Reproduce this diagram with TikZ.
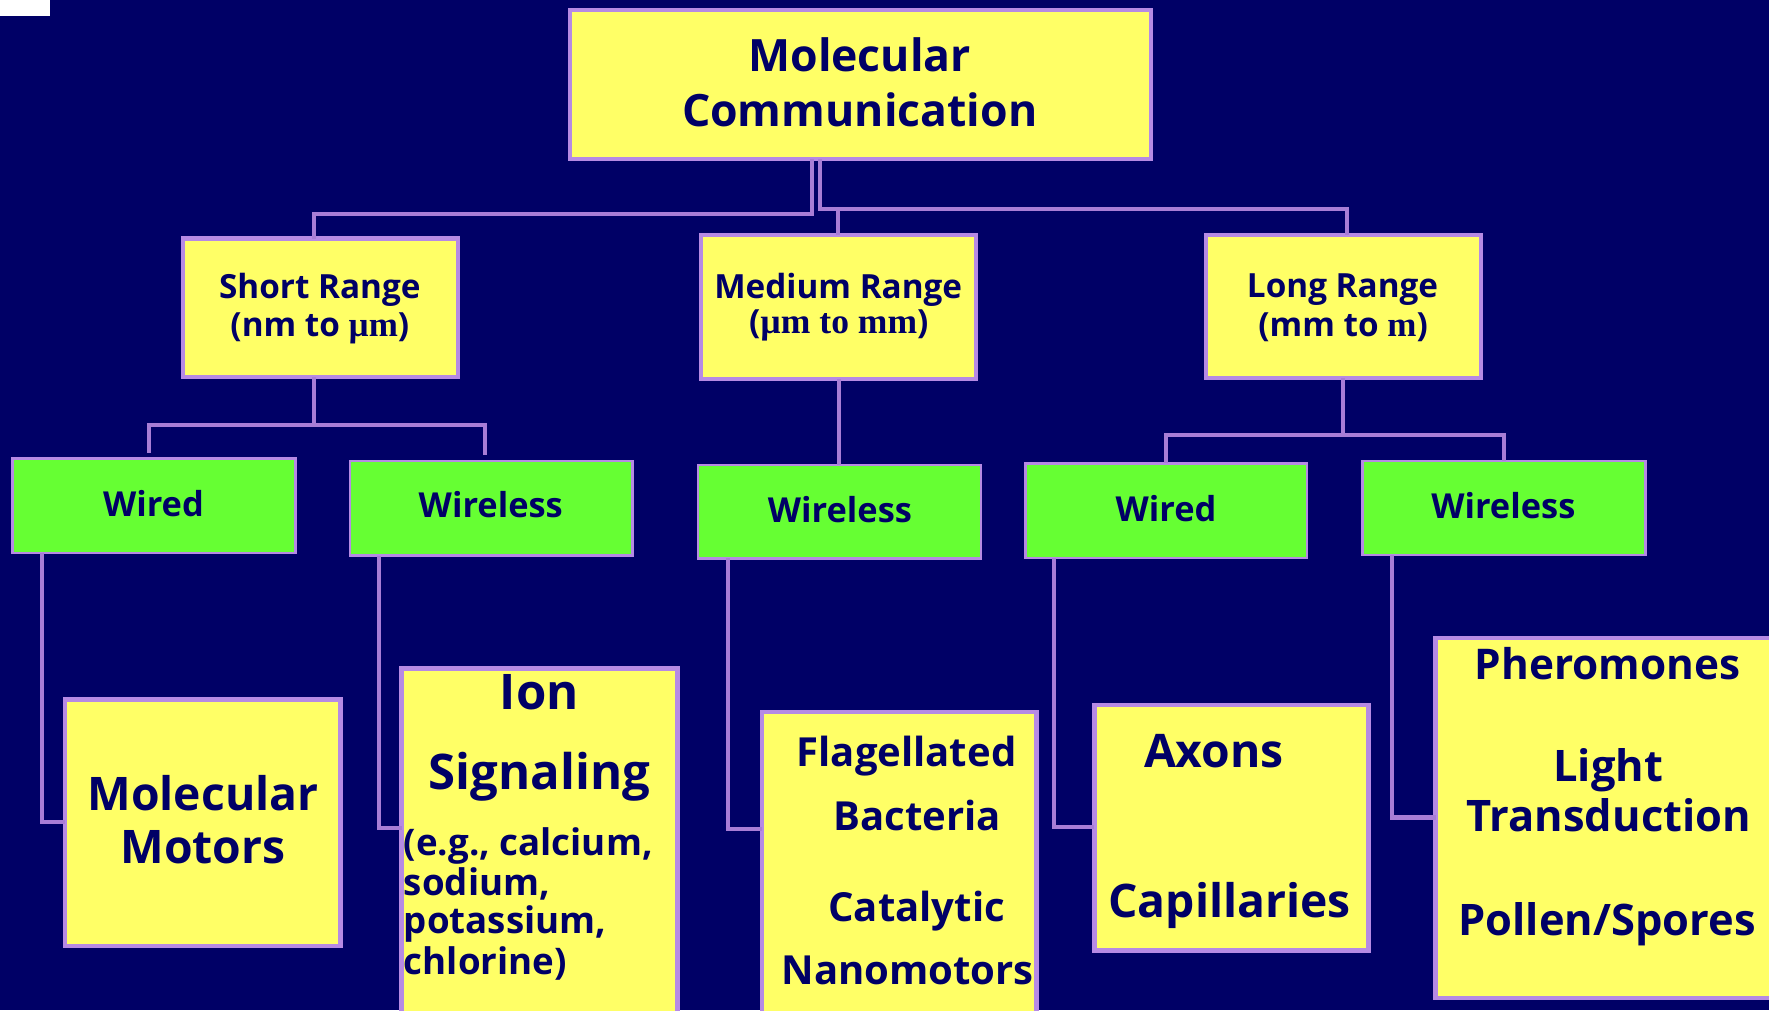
\documentclass[tikz,border=0pt]{standalone}
\usepackage{fontspec}
\newfontfamily\cf{Open Sans}
\newfontfamily\tnr{Liberation Serif}
\newcommand\fsz[1]{\fontsize{#1}{#1}\selectfont}
\definecolor{bgc}{HTML}{000066}
\definecolor{navy}{HTML}{000066}
\definecolor{yel}{HTML}{FFFF66}
\definecolor{grn}{HTML}{66FF33}
\definecolor{bordc}{HTML}{B68AE4}
\definecolor{connc}{HTML}{A87DD6}
\tikzset{
  box/.style={draw=bordc, anchor=north west, inner sep=0pt, outer sep=0pt},
  ybox/.style={box, fill=yel, line width=3.8pt},
  gbox/.style={box, fill=grn, line width=2.2pt},
  conn/.style={draw=connc, line width=3.6pt},
  txt/.style={text=navy, anchor=base, inner sep=0pt, outer sep=0pt},
  tnode/.style={txt, font={\cf\bfseries\fsz{#1}}},
  tleft/.style={txt, anchor=base west, font={\cf\bfseries\fsz{#1}}},
}
\begin{document}
\begin{tikzpicture}[x=1pt,y=-1pt]
\useasboundingbox (0,0) rectangle (1568,895.25);
\fill[bgc] (0,0) rectangle (1568,895.25);
\clip (0,0) rectangle (1568,895.25);
\fill[white] (0,0) rectangle (44.3,13.9);

% ---------- boxes ----------
\node[ybox, minimum width=515pt, minimum height=132pt] (top) at (505,9) {};
\node[ybox, minimum width=243.8pt, minimum height=122.5pt] (short) at (162,211.5) {};
\node[ybox, minimum width=243.5pt, minimum height=127.5pt] (medium) at (621.5,208.5) {};
\node[ybox, minimum width=243.5pt, minimum height=126.5pt] (long) at (1069,208.5) {};

\node[gbox, minimum width=250.8pt, minimum height=83.7pt] (wd1) at (11.2,406.3) {};
\node[gbox, minimum width=250.4pt, minimum height=83.9pt] (wl1) at (310.3,408.6) {};
\node[gbox, minimum width=250.8pt, minimum height=83pt] (wl2) at (618.7,412) {};
\node[gbox, minimum width=249.4pt, minimum height=83.8pt] (wd2) at (909,410.8) {};
\node[gbox, minimum width=250.7pt, minimum height=83.4pt] (wl3) at (1207.6,408.6) {};

\node[ybox, minimum width=244.2pt, minimum height=218.5pt] (mm) at (57.5,620) {};
\node[ybox, minimum width=244.4pt, minimum height=330pt] (ion) at (356,592.5) {};
\node[ybox, minimum width=243pt, minimum height=290pt] (fla) at (675.6,631.4) {};
\node[ybox, minimum width=243pt, minimum height=218pt] (axc) at (970,624.6) {};
\node[ybox, minimum width=330pt, minimum height=319.1pt] (pher) at (1272.5,565.5) {};

% ---------- connectors ----------
\coordinate (a1) at (720,190);
\coordinate (sr1) at (278,0);
\draw[conn] (top.south -| a1) -- (a1) -- (a1 -| sr1) -- (short.north -| sr1);
\coordinate (a2) at (727,185.5);
\coordinate (lr1) at (1194,0);
\draw[conn] (top.south -| a2) -- (a2) -- (a2 -| lr1) -- (long.north -| lr1);
\coordinate (mr1) at (743,185.5);
\draw[conn] (mr1) -- (medium.north -| mr1);

\coordinate (b1) at (278,377);
\coordinate (b2) at (132,401.5);
\coordinate (b3) at (430,403.5);
\draw[conn] (short.south -| b1) -- (b1) -| (b2);
\draw[conn] (b1) -| (b3);

\coordinate (mr2) at (744,0);
\draw[conn] (medium.south -| mr2) -- (wl2.north -| mr2);

\coordinate (c1) at (1190.5,385.5);
\coordinate (c2) at (1033.6,0);
\coordinate (c3) at (1332.7,0);
\draw[conn] (long.south -| c1) -- (c1) -| (wd2.north -| c2);
\draw[conn] (c1) -| (wl3.north -| c3);

\coordinate (d1) at (37.1,728.6);
\draw[conn] (wd1.south -| d1) -- (d1) -- (mm.west |- d1);
\coordinate (d2) at (336,734);
\draw[conn] (wl1.south -| d2) -- (d2) -- (ion.west |- d2);
\coordinate (d3) at (645,735);
\draw[conn] (wl2.south -| d3) -- (d3) -- (fla.west |- d3);
\coordinate (d4) at (934.3,732.8);
\draw[conn] (wd2.south -| d4) -- (d4) -- (axc.west |- d4);
\coordinate (d5) at (1233.8,724.6);
\draw[conn] (wl3.south -| d5) -- (d5) -- (pher.west |- d5);

% ---------- texts ----------
\node[tnode=39.5] (t1) at (762,63.5) {Molecular};
\node[tnode=39.5] (t2) at (762,112.3) {Communication};

\node[tnode=29.5] (s1) at (283.5,264.4) {Short Range};
\node[tnode=29.5] (s2) at (283.5,298.5) {(nm to {\tnr\fsz{31}µm})};
\node[tnode=29.5] (m1) at (743,264.4) {Medium Range};
\node[tnode=29.5] (m2) at (743.5,296) {({\tnr\fsz{31.5}µm to mm})};
\node[tnode=29.5] (l1) at (1190,263.5) {Long Range};
\node[tnode=29.5] (l2) at (1190.5,298.4) {(mm to {\tnr\fsz{31}m})};

\node[tnode=30.5] (g1) at (136,457.5) {Wired};
\node[tnode=30.5] (g2) at (435,459) {Wireless};
\node[tnode=30.5] (g3) at (744.5,463) {Wireless};
\node[tnode=30.5] (g4) at (1033.5,462) {Wired};
\node[tnode=30.5] (g5) at (1332.5,459.4) {Wireless};

\node[tnode=41] (x1) at (180,718.4) {Molecular};
\node[tnode=41] (x2) at (180,765.8) {Motors};

\node[tnode=43.5] (y1) at (478,629.3) {Ion};
\node[tnode=43.5] (y2) at (478,699.4) {Signaling};
\node[tleft=32.5] (y3) at (358,758.7) {(e.g., calcium,};
\node[tleft=32.5] (y4) at (358,793.3) {sodium,};
\node[tleft=32.5] (y5) at (358,827.8) {potassium,};
\node[tleft=32.5] (y6) at (358,864) {chlorine)};

\node[tnode=35.5] (z1) at (803.5,679.4) {Flagellated};
\node[tnode=35.5] (z2) at (813,735.7) {Bacteria};
\node[tnode=35.5] (z3) at (812.5,816.4) {Catalytic};
\node[tnode=35.5] (z4) at (804.5,872.5) {Nanomotors};

\node[tnode=41] (u1) at (1076,680.5) {Axons};
\node[tnode=41] (u2) at (1090,813.3) {Capillaries};

\node[tnode=37.5] (v1) at (1425,602.7) {Pheromones};
\node[tnode=38.5] (v2) at (1425.5,692.8) {Light};
\node[tnode=38.5] (v3) at (1426,737.2) {Transduction};
\node[tnode=38.5] (v4) at (1424.5,828.8) {Pollen/Spores};
\end{tikzpicture}
\end{document}
